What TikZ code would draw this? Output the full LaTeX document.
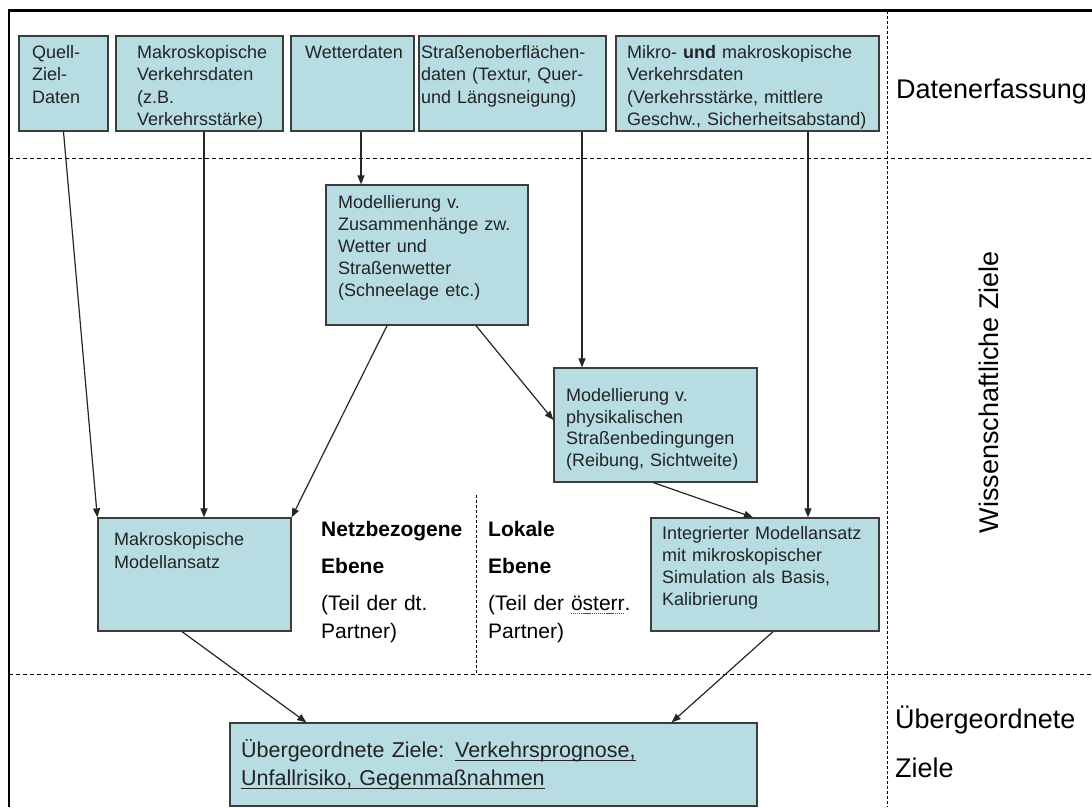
\documentclass[tikz,border=0pt]{standalone}
\usepackage{fontspec}
\setmainfont{Liberation Sans}
\usetikzlibrary{arrows.meta,fit,calc}
\definecolor{boxfill}{RGB}{183,221,227}
\definecolor{boxline}{RGB}{60,60,60}
\definecolor{ink}{RGB}{35,35,35}
\newcommand\spellerr[1]{\leavevmode\setbox0\hbox{#1}\rlap{\raisebox{-3.5pt}{\textcolor{red}{\hbox to \wd0{\xleaders\hbox{\rule{1.2pt}{0.8pt}\kern0.7pt}\hfill}}}}\box0}
\newcommand\ulx[1]{\leavevmode\setbox0\hbox{#1}\rlap{\rule[-3pt]{\wd0}{1pt}}\box0}
\tikzset{
  box/.style={draw=boxline, fill=boxfill, line width=1.3pt, inner sep=0pt},
  btxt/.style={anchor=base west, inner sep=0pt, text width=300pt, align=left, text=ink, font=\fontsize{18}{22.5}\selectfont},
  conn/.style={draw=black!85, line width=1.2pt, -{Triangle[length=9pt,width=7pt]}},
  lbl/.style={anchor=base west, inner sep=0pt, font=\fontsize{27}{32}\selectfont},
  ebene/.style={anchor=base west, inner sep=0pt, text width=170pt, align=left, font=\fontsize{21}{28}\selectfont},
  sep/.style={line width=1pt, dash pattern=on 4pt off 3pt},
  vsep/.style={line width=1pt, dash pattern=on 3pt off 2pt}
}
\begin{document}
\begin{tikzpicture}[x=1pt,y=-1pt]
\useasboundingbox (0,0) rectangle (1092,807);
\fill[white] (0,0) rectangle (1092,807);
% frame
\draw[line width=2.5pt] (9,807) -- (9,10.5) -- (1092,10.5);
% separators
\draw[sep] (9,158) -- (1092,158);
\draw[sep] (9,674) -- (1092,674);
\draw[vsep] (887,11) -- (887,807);
\draw[vsep] (476,495) -- (476,674);
% top row boxes
\node[box, fit={(19,36) (108,131)}] (b1) {};
\node[box, fit={(116,36) (283,131)}] (b2) {};
\node[box, fit={(291,36) (414,131)}] (b3) {};
\node[box, fit={(419,36) (606,131)}] (b4) {};
\node[box, fit={(616,36) (879,131)}] (b5) {};
\node[btxt] (t1) at (32,58) {Quell-\\Ziel-\\Daten};
\node[btxt] (t2) at (137,58) {Makroskopische\\Verkehrsdaten\\(z.B.\\Verkehrsstärke)};
\node[btxt] (t3) at (305,58) {Wetterdaten};
\node[btxt] (t4) at (421,58) {Straßenoberflächen-\\daten (Textur, Quer-\\und Längsneigung)};
\node[btxt] (t5) at (627,58) {Mikro- \textbf{und} makroskopische\\Verkehrsdaten\\(Verkehrsstärke, mittlere\\Geschw., Sicherheitsabstand)};
% middle boxes
\node[box, fit={(326,185) (528,325)}] (zus) {};
\node[btxt, font=\fontsize{18}{22}\selectfont] (tzus) at (338,208.5) {Modellierung v.\\Zusammenhänge zw.\\Wetter und\\Straßenwetter\\(Schneelage etc.)};
\node[box, fit={(554,368) (757,482)}] (phy) {};
\node[btxt, font=\fontsize{18}{21.7}\selectfont] (tphy) at (566,401.5) {Modellierung v.\\physikalischen\\Straßenbedingungen\\(Reibung, Sichtweite)};
\node[box, fit={(98,518) (291,631)}] (makro) {};
\node[btxt, font=\fontsize{18}{23}\selectfont] (tmakro) at (114,545.5) {Makroskopische\\Modellansatz};
\node[box, fit={(651,518) (879,631)}] (integ) {};
\node[btxt, font=\fontsize{18}{22}\selectfont] (tinteg) at (662,539.5) {Integrierter Modellansatz\\mit mikroskopischer\\Simulation als Basis,\\Kalibrierung};
% bottom box
\node[box, fit={(230,723) (757,806)}] (ziel) {};
\node[btxt, text width=510pt, font=\fontsize{21.5}{28}\selectfont] (tziel) at (241,757.5) {Übergeordnete Ziele: \ulx{Verkehrsprognose,}\\\ulx{Unfallrisiko, Gegenmaßnahmen}};
% level labels
\node[ebene] (netz) at (321,536) {\textbf{Netzbezogene}\\[9pt]\textbf{Ebene}\\[9pt](Teil der dt.\\Partner)};
\node[ebene] (lokal) at (488,536) {\textbf{Lokale}\\[9pt]\textbf{Ebene}\\[9pt](Teil der \spellerr{österr}.\\Partner)};
% right column labels
\node[lbl] (ldat) at (896,98) {Datenerfassung};
\node[rotate=90, anchor=base, inner sep=0pt, font=\fontsize{27}{32}\selectfont] (lwiss) at (998,392) {Wissenschaftliche Ziele};
\node[lbl] (lueb1) at (895,728) {Übergeordnete};
\node[lbl] (lueb2) at (895,777) {Ziele};
% connectors
\draw[conn] (b1.south) -- (makro.north west);
\draw[conn] ([xshift=4.5pt]b2.south) -- ([xshift=4.5pt]b2.south |- makro.north);
\draw[conn] ([xshift=8.5pt]b3.south) -- ([xshift=8.5pt]b3.south |- zus.north);
\draw[conn] ([xshift=69.5pt]b4.south) -- ([xshift=69.5pt]b4.south |- phy.north);
\draw[conn] ([xshift=60.5pt]b5.south) -- ([xshift=60.5pt]b5.south |- integ.north);
\draw[conn] ([xshift=-40pt]zus.south) -- (makro.north east);
\draw[conn] ([xshift=49pt]zus.south) -- ([yshift=5pt]phy.west);
\draw[conn] ([xshift=-2pt]phy.south) -- ([xshift=-12pt]integ.north);
\draw[conn] ([xshift=-12.5pt]makro.south) -- ([xshift=77pt]ziel.north west);
\draw[conn] ([xshift=8pt]integ.south) -- ([xshift=-86pt]ziel.north east);
\end{tikzpicture}
\end{document}
